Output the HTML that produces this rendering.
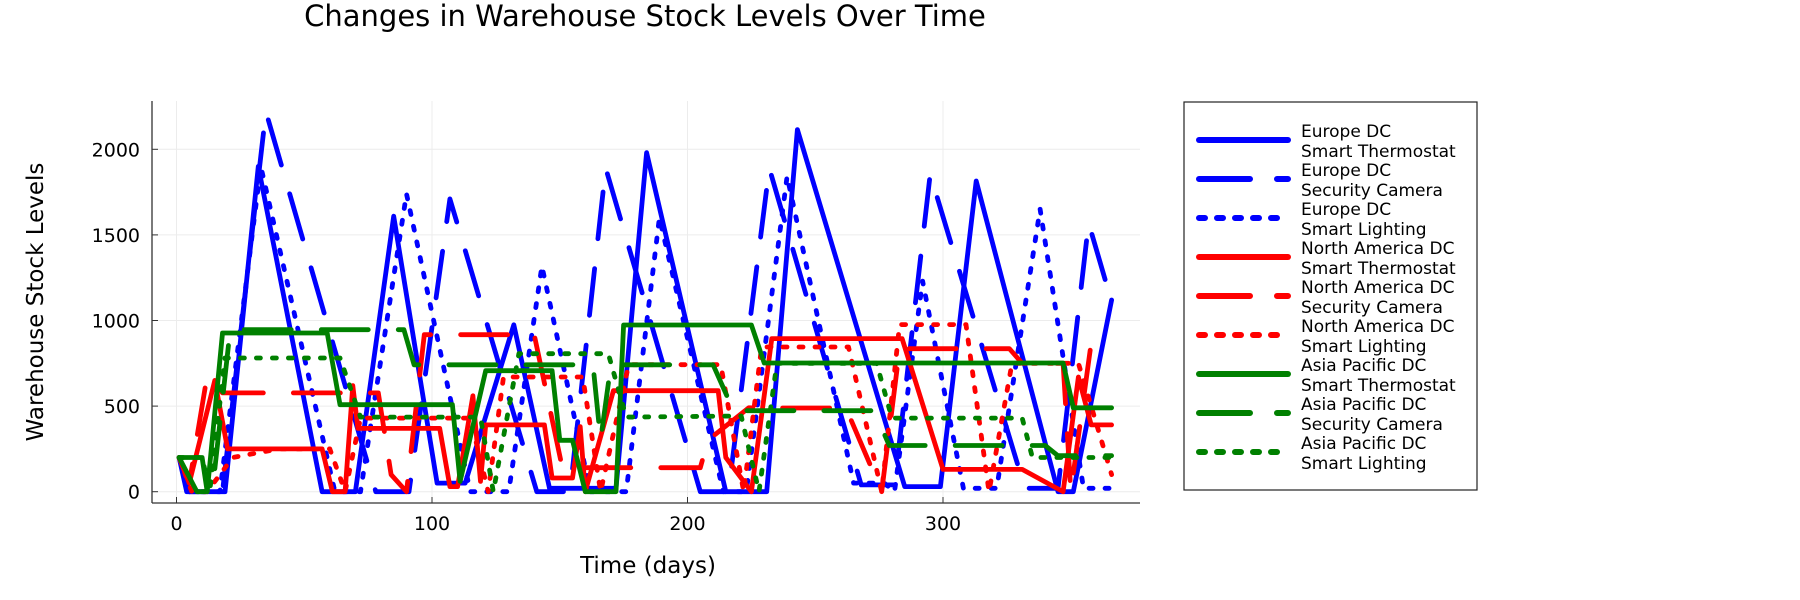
<!DOCTYPE html>
<html><head><meta charset="utf-8"><style>
html,body{margin:0;padding:0;background:#fff;}
svg{display:block;font-family:"DejaVu Sans","Liberation Sans",sans-serif;}
</style></head><body>
<svg id="chart" width="1800" height="600" viewBox="0 0 1800 600">
<text x="645" y="26" font-size="29" text-anchor="middle">Changes in Warehouse Stock Levels Over Time</text>
<g id="grid"></g>
<g id="axes"></g>
<g id="series"></g>
<text x="648" y="573" font-size="23" text-anchor="middle">Time (days)</text>
<text transform="translate(43,302) rotate(-90)" font-size="23" text-anchor="middle">Warehouse Stock Levels</text>
<rect x="1184" y="102" width="293" height="388" fill="#fff" stroke="#222" stroke-width="1.2"/>
<g id="legend"></g>
</svg>
<script>
const xTicks=[0,100,200,300];
const yTicks=[0,500,1000,1500,2000];
const seriesNames=["Europe DC\nSmart Thermostat","Europe DC\nSecurity Camera","Europe DC\nSmart Lighting","North America DC\nSmart Thermostat","North America DC\nSecurity Camera","North America DC\nSmart Lighting","Asia Pacific DC\nSmart Thermostat","Asia Pacific DC\nSecurity Camera","Asia Pacific DC\nSmart Lighting"];
const euThermDays=[1,5,19,32,57,70,85,102,113,132,146,172,184,215,231,243,285,299,313,345,351,366];
const euThermVals=[200,0,0,1900,0,0,1609,50,50,975,20,20,1980,0,0,2115,30,30,1815,0,0,1120];
const euCamDays=[1,4,18,35,78,91,107,141,154,168,205,216,232,268,281,295,332,345,357,366];
const euCamVals=[200,0,0,2220,0,0,1710,0,0,1890,0,0,1890,40,40,1855,20,20,1570,1110];
const euLightDays=[1,5,17,33,62,72,90,115,130,143,162,176,189,214,223,239,265,277,281,292,308,321,338,355,366];
const euLightVals=[200,0,0,1900,0,0,1740,0,0,1318,0,0,1600,0,0,1842,50,50,0,1230,20,20,1650,20,20];
const naThermDays=[1,5,15,20,57,61,66,69,71,103,107,110,116,119,121,144,147,155,158,160,171,212,215,225,233,284,300,331,347,353,358,366];
const naThermVals=[200,50,650,250,250,0,0,620,370,370,30,30,560,60,390,390,80,80,380,0,590,590,200,0,894,894,130,130,0,670,390,390];
const naCamDays=[1,5,12,18,79,84,90,97,140,151,205,208,224,228,262,276,283,326,331,347,350,358,366];
const naCamVals=[200,50,680,577,577,100,0,917,917,140,140,300,490,489,489,0,835,835,750,750,0,870,870];
const naLightDays=[1,6,12,22,40,60,66,72,115,122,128,159,166,177,213,222,229,263,276,283,309,318,327,353,366];
const naLightVals=[200,0,0,200,250,250,0,430,430,0,670,670,0,742,742,0,845,845,0,976,976,0,750,750,100];
const apThermDays=[1,10,12,18,59,64,108,111,121,147,150,155,160,172,175,225,230,347,351,366];
const apThermVals=[200,200,0,927,927,508,508,60,707,707,300,300,0,0,974,974,752,752,490,490];
const apCamDays=[1,8,14,21,89,93,163,166,170,205,210,218,273,279,340,345,366];
const apCamVals=[200,0,0,946,946,741,741,300,741,741,741,473,473,270,270,210,210];
const apLightDays=[1,10,13,19,64,72,119,124,134,169,176,221,228,235,274,280,331,335,366];
const apLightVals=[200,200,0,781,781,436,436,0,806,806,436,442,0,750,750,430,430,200,200];

const X0=176.5, XS=2.555, Y0=491.7, YS=0.1712;
function xs(d){return X0+XS*d;}
function ys(v){return Y0-YS*v;}
const NS="http://www.w3.org/2000/svg";
function mk(tag,attrs,parent){const e=document.createElementNS(NS,tag);for(const k in attrs)e.setAttribute(k,attrs[k]);parent.appendChild(e);return e;}
const grid=document.getElementById('grid'),axes=document.getElementById('axes'),ser=document.getElementById('series'),leg=document.getElementById('legend');
const L=152,R=1140,T=101,B=503;
xTicks.forEach(t=>{
  const g=mk('line',{x1:xs(t),x2:xs(t),y1:T,y2:B,stroke:'#ececec','stroke-width':1},grid);
  
  
  const tk=mk('line',{x1:xs(t),x2:xs(t),y1:B,y2:B-6,stroke:'#333','stroke-width':1},axes);
  
  
  const tx=mk('text',{x:xs(t),y:530,'font-size':19,'text-anchor':'middle'},axes);tx.textContent=t;
  
  
});
yTicks.forEach(t=>{
  const g=mk('line',{x1:L,x2:R,y1:ys(t),y2:ys(t),stroke:'#ececec','stroke-width':1},grid);
  
  
  const tk=mk('line',{x1:L,x2:L+6,y1:ys(t),y2:ys(t),stroke:'#333','stroke-width':1},axes);
  
  
  const tx=mk('text',{x:L-12,y:ys(t)+7,'font-size':19,'text-anchor':'end'},axes);tx.textContent=t;
  
  
});
const ax1=mk('line',{x1:L,x2:L,y1:T,y2:B,stroke:'#333','stroke-width':1.3},axes);


const ax2=mk('line',{x1:L,x2:R,y1:B,y2:B,stroke:'#333','stroke-width':1.3},axes);



const allDays=[euThermDays,euCamDays,euLightDays,naThermDays,naCamDays,naLightDays,apThermDays,apCamDays,apLightDays];
const allVals=[euThermVals,euCamVals,euLightVals,naThermVals,naCamVals,naLightVals,apThermVals,apCamVals,apLightVals];
const colors=['#0000ff','#0000ff','#0000ff','#ff0000','#ff0000','#ff0000','#008000','#008000','#008000'];
const dashes=['none','47 30','4 12'];
const keys=['europe-smart-thermostat','europe-security-camera','europe-smart-lighting','north-america-smart-thermostat','north-america-security-camera','north-america-smart-lighting','asia-pacific-smart-thermostat','asia-pacific-security-camera','asia-pacific-smart-lighting'];
for(let i=0;i<9;i++){
  const d=allDays[i],v=allVals[i];
  let p='';for(let j=0;j<d.length;j++)p+=(j?'L':'M')+xs(d[j]).toFixed(1)+','+ys(v[j]).toFixed(1);
  const pa=mk('path',{d:p,fill:'none',stroke:colors[i],'stroke-width':4.8,'stroke-dasharray':dashes[i%3],'stroke-linecap':'round','stroke-linejoin':'round'},ser);
  
  
  const ly=140+39*i;
  const ge=mk('g',{},leg);
  
  
  mk('line',{x1:1199,x2:1288,y1:ly,y2:ly,stroke:colors[i],'stroke-width':6,'stroke-dasharray':i%3==0?'none':(i%3==1?'51 27':'6 12'),'stroke-linecap':'round'},ge);
  const parts=seriesNames[i].split('\n');
  const t1=mk('text',{x:1301,y:ly-3,'font-size':17},ge);t1.textContent=parts[0];
  const t2=mk('text',{x:1301,y:ly+17,'font-size':17},ge);t2.textContent=parts[1];
}
</script>
</body></html>
